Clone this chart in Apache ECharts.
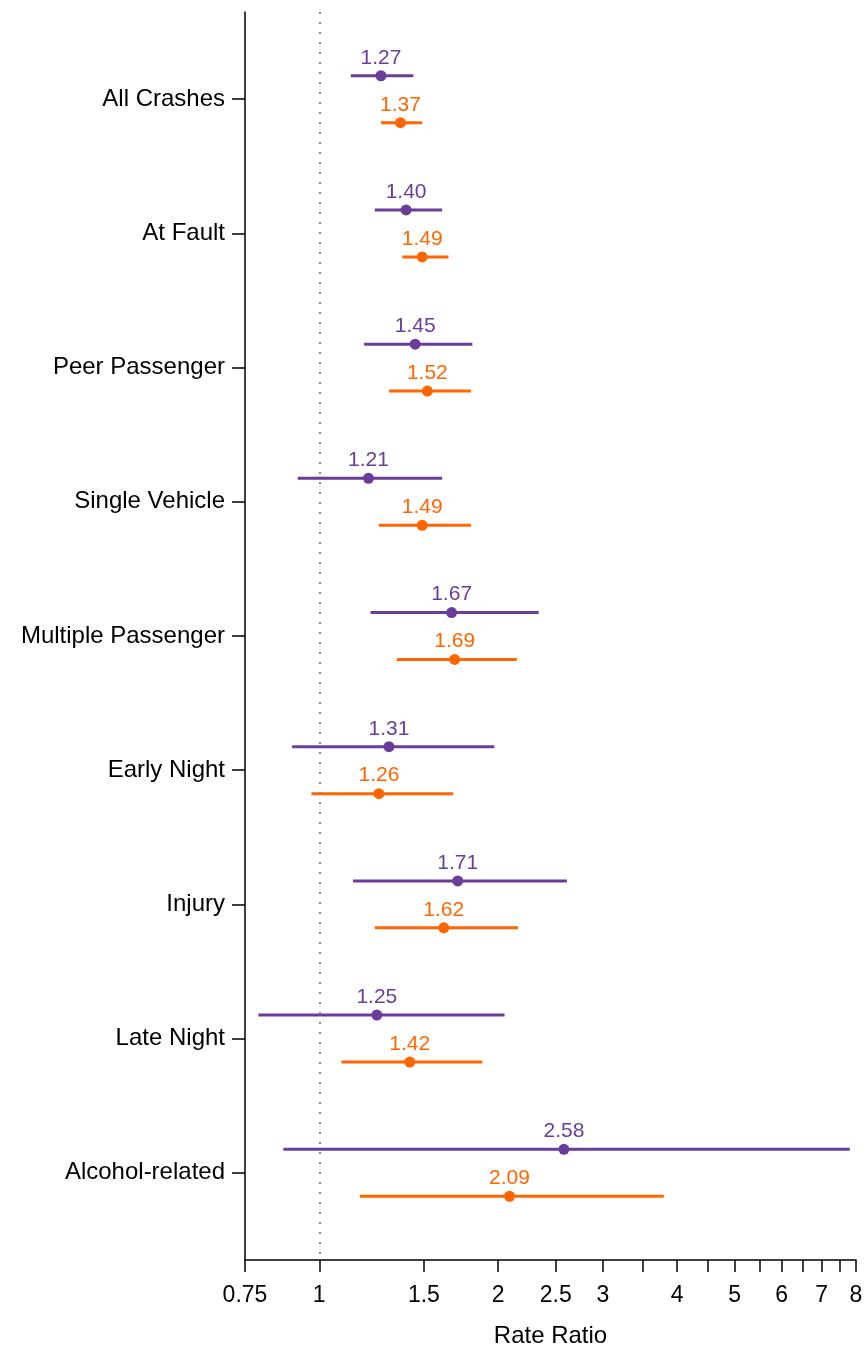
<!DOCTYPE html>
<html>
<head>
<meta charset="utf-8">
<script src="https://cdn.jsdelivr.net/npm/echarts@6/dist/echarts.min.js"></script>
<style>
  html, body { margin: 0; padding: 0; background: #fff; }
  #chart { width: 866px; height: 1353px; }
</style>
</head>
<body>
<div id="chart"></div>
<script>
// Outcome categories, top to bottom
const categories = ['All Crashes', 'At Fault', 'Peer Passenger', 'Single Vehicle', 'Multiple Passenger',
  'Early Night', 'Injury', 'Late Night', 'Alcohol-related'];

// First group (purple): rate ratio with 95% CI
const purpleRR   = [1.27, 1.40, 1.45, 1.21, 1.67, 1.31, 1.71, 1.25, 2.58];
const purpleLow  = [1.13, 1.24, 1.19, 0.92, 1.22, 0.90, 1.14, 0.79, 0.87];
const purpleHigh = [1.44, 1.61, 1.81, 1.61, 2.34, 1.97, 2.61, 2.05, 7.81];

// Second group (orange): rate ratio with 95% CI
const orangeRR   = [1.37, 1.49, 1.52, 1.49, 1.69, 1.26, 1.62, 1.42, 2.09];
const orangeLow  = [1.27, 1.38, 1.31, 1.26, 1.35, 0.97, 1.24, 1.09, 1.17];
const orangeHigh = [1.49, 1.65, 1.80, 1.80, 2.15, 1.68, 2.16, 1.88, 3.80];

// Rate-ratio axis ticks and labels
const xTicks  = [0.75, 1, 1.5, 2, 2.5, 3, 3.5, 4, 4.5, 5, 5.5, 6, 6.5, 7, 7.5, 8];
const xLabels = [0.75, 1, 1.5, 2, 2.5, 3, 4, 5, 6, 7, 8];

const PURPLE = '#6a3d9a';
const ORANGE = '#ff6600';
const FONT = 'Arial, "Liberation Sans", sans-serif';
const OFFSET = 0.175;

function ciSeries(name, lows, highs, offset, color) {
  return {
    name: name,
    type: 'custom',
    data: categories.map((c, i) => [lows[i], highs[i], i + offset]),
    encode: { x: [0, 1], y: 2 },
    renderItem: function (params, api) {
      const y = api.value(2);
      const p0 = api.coord([api.value(0), y]);
      const p1 = api.coord([api.value(1), y]);
      return {
        type: 'line',
        shape: { x1: p0[0], y1: p0[1], x2: p1[0], y2: p1[1] },
        style: { stroke: color, lineWidth: 3 }
      };
    },
    z: 2
  };
}

function pointSeries(name, values, offset, color) {
  return {
    name: name,
    type: 'scatter',
    data: values.map((v, i) => [v, i + offset]),
    symbolSize: 11,
    itemStyle: { color: color, opacity: 1 },
    label: {
      show: true,
      position: 'top',
      distance: 2,
      fontSize: 21,
      fontFamily: FONT,
      color: color,
      formatter: p => p.value[0].toFixed(2)
    },
    z: 3
  };
}

const chart = echarts.init(document.getElementById('chart'));
chart.setOption({
  backgroundColor: '#fff',
  animation: false,
  grid: { left: 245, right: 10, top: 12, bottom: 91 },
  xAxis: {
    type: 'log',
    logBase: 10,
    min: 0.75,
    max: 8,
    name: 'Rate Ratio',
    nameLocation: 'middle',
    nameGap: 64,
    nameTextStyle: { fontSize: 24, fontFamily: FONT, color: '#000' },
    axisLine: { show: true, onZero: false, lineStyle: { color: '#000', width: 1.5 } },
    axisTick: { show: true, customValues: xTicks, length: 12, lineStyle: { color: '#000', width: 1.5 } },
    axisLabel: {
      customValues: xLabels,
      fontSize: 23,
      fontFamily: FONT,
      color: '#000',
      margin: 24,
      formatter: v => String(+(+v).toFixed(2))
    },
    splitLine: { show: false },
    minorTick: { show: false }
  },
  yAxis: {
    type: 'value',
    inverse: true,
    min: -0.65,
    max: 8.65,
    axisLine: { show: true, onZero: false, lineStyle: { color: '#000', width: 1.5 } },
    axisTick: { show: true, customValues: categories.map((c, i) => i), length: 13, lineStyle: { color: '#000', width: 1.5 } },
    axisLabel: {
      customValues: categories.map((c, i) => i),
      fontSize: 24,
      fontFamily: FONT,
      color: '#000',
      margin: 20,
      formatter: v => categories[Math.round(v)] || ''
    },
    splitLine: { show: false }
  },
  series: [
    ciSeries('Group 1 CI', purpleLow, purpleHigh, -OFFSET, PURPLE),
    ciSeries('Group 2 CI', orangeLow, orangeHigh, OFFSET, ORANGE),
    Object.assign(pointSeries('Group 1', purpleRR, -OFFSET, PURPLE), {
      markLine: {
        silent: true,
        symbol: 'none',
        label: { show: false },
        lineStyle: { color: '#888', type: [2, 8], width: 2 },
        data: [{ xAxis: 1 }]
      }
    }),
    pointSeries('Group 2', orangeRR, OFFSET, ORANGE)
  ]
});
</script>
</body>
</html>
